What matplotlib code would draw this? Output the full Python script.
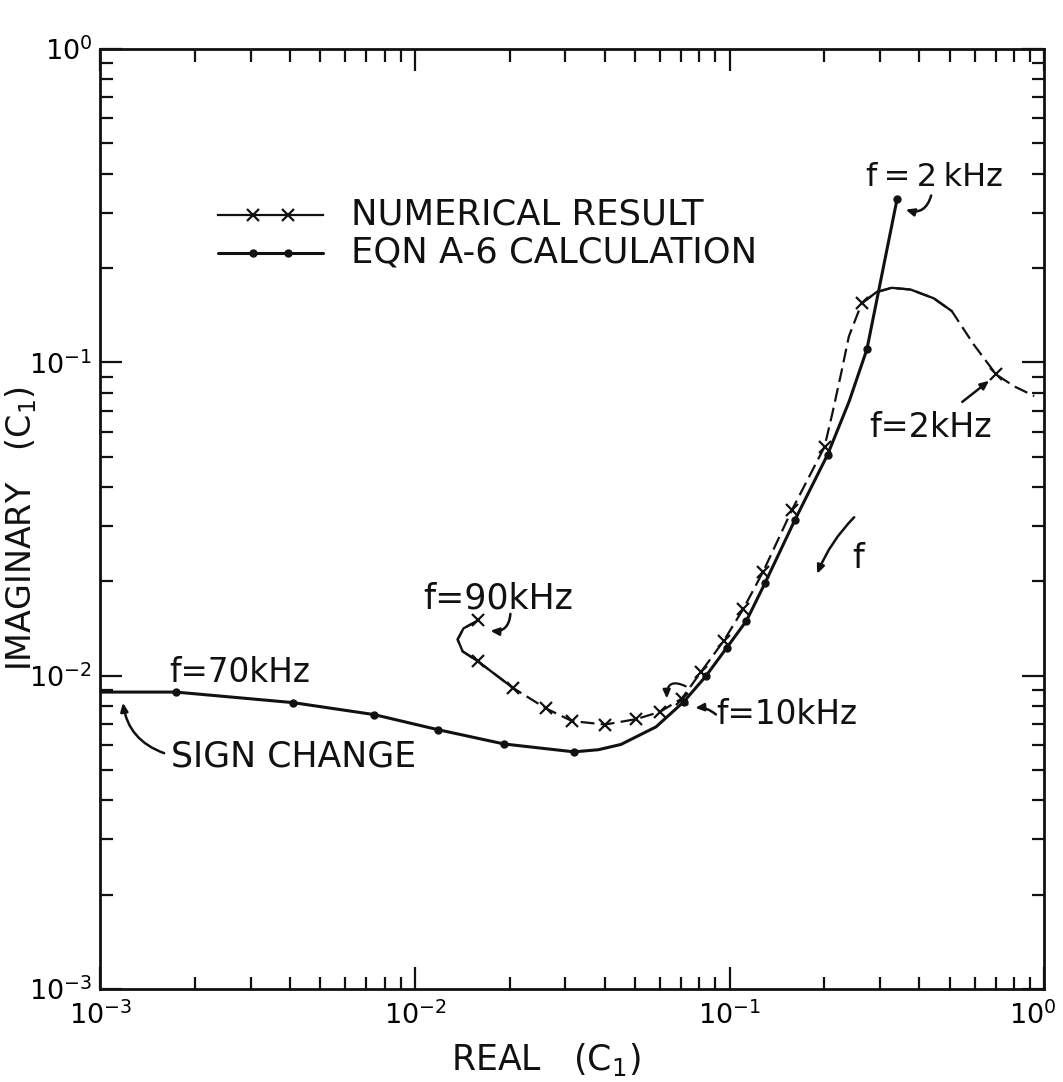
"""
Complex coupling coefficient C1 plotted in the complex plane (log-log).
Numerical result vs. the closed-form Eqn A-6 calculation, with the
frequency sweep annotated along both traces.
"""

import math
import numpy as np
import matplotlib
matplotlib.use("Agg")
import matplotlib.pyplot as plt
from matplotlib.ticker import LogLocator, FuncFormatter, NullFormatter
from matplotlib.transforms import ScaledTranslation

# -- Data ----------------------------------------------------------------------
# Eqn A-6 calculation, from f = 70 kHz (sign change at the left edge) to f = 2 kHz
eqn_re = [0.001, 0.001736, 0.00409, 0.0074, 0.01183, 0.01918, 0.0320, 0.0382,
          0.0451, 0.0583, 0.0715, 0.0839, 0.0977, 0.1130, 0.1297, 0.1610,
          0.2046, 0.2396, 0.2729, 0.3404]
eqn_im = [0.00886, 0.00886, 0.00820, 0.00751, 0.00672, 0.00605, 0.00571, 0.00580,
          0.00603, 0.00686, 0.00826, 0.00995, 0.01225, 0.01496, 0.01982, 0.03135,
          0.0507, 0.0750, 0.1101, 0.3325]
eqn_dots = [1, 2, 3, 4, 5, 6, 10, 11, 12, 13, 14, 15, 16, 18, 19]

# Numerical result, from f = 90 kHz to f = 2 kHz
num_re = [0.01590, 0.01425, 0.01365, 0.01416, 0.01581, 0.02045, 0.02604, 0.03152,
          0.04013, 0.05034, 0.06001, 0.07043, 0.08083, 0.09557, 0.1105, 0.1277,
          0.1575, 0.2001, 0.2118, 0.2259, 0.2391, 0.2627, 0.2930, 0.3270,
          0.3757, 0.4449, 0.5076, 0.5970, 0.7023, 0.8015, 0.9281]
num_im = [0.01502, 0.01415, 0.01304, 0.01195, 0.01112, 0.00914, 0.00786, 0.00716,
          0.00698, 0.00726, 0.00766, 0.00845, 0.01024, 0.01289, 0.01634, 0.02148,
          0.03372, 0.05373, 0.06855, 0.09211, 0.1209, 0.1543, 0.1675, 0.1728,
          0.1706, 0.1600, 0.1457, 0.1137, 0.0914, 0.0838, 0.0780]
num_marks = [0, 4, 5, 6, 7, 8, 9, 10, 11, 12, 13, 14, 15, 16, 17, 21, 28]
# stretches of the numerical trace drawn solid (hook at 90 kHz, arc over the peak)
num_solid = [(0, 5), (21, 26)]

legend_labels = ["NUMERICAL RESULT", "EQN A-6 CALCULATION"]

# -- Style ---------------------------------------------------------------------
plt.rcParams["font.family"] = ["DejaVu Sans"]
plt.rcParams["mathtext.default"] = "regular"
plt.rcParams["axes.unicode_minus"] = False
plt.rcParams["lines.scale_dashes"] = False

INK = "#111111"
DASH = (10, 4.5)
NUM_STYLE = dict(color=INK, lw=1.6, marker="x", ms=8, mew=1.6)
EQN_STYLE = dict(color=INK, lw=2.2, marker="o", ms=5, solid_capstyle="round")


def draw_numerical(ax):
    """Numerical trace: dashed overall, solid stretches, x marks on the grid points."""
    ax.plot(num_re, num_im, dashes=DASH, markevery=num_marks, **NUM_STYLE)
    for i0, i1 in num_solid:
        ax.plot(num_re[i0:i1 + 1], num_im[i0:i1 + 1], color=INK, lw=1.7,
                solid_capstyle="round")


def draw_eqn(ax):
    ax.plot(eqn_re, eqn_im, markevery=eqn_dots, **EQN_STYLE)


def draw_key(ax, y, style, text, x0=0.125, x1=0.236, tx=0.2658):
    """Key line with two marks at 1/3 and 2/3 of its length, label to the right."""
    xs = np.linspace(x0, x1, 4)
    ax.plot(xs, [y] * 4, transform=ax.transAxes, markevery=[1, 2],
            clip_on=False, **style)
    ax.text(tx, y, text, transform=ax.transAxes, ha="left", va="center",
            fontsize=25.5, color=INK)


def arrow(ax, tail, head, rad=0.0, lw=1.8):
    ax.annotate("", xy=head, xytext=tail, xycoords="axes fraction",
                textcoords="axes fraction",
                arrowprops=dict(arrowstyle="-|>,head_length=0.5,head_width=0.22",
                                color=INK, lw=lw, shrinkA=0, shrinkB=0,
                                connectionstyle=f"arc3,rad={rad}"))


def label(ax, x, y, s, size=24):
    ax.text(x, y, s, transform=ax.transAxes, ha="center", va="center",
            fontsize=size, color=INK)


# -- Figure --------------------------------------------------------------------
fig = plt.figure(figsize=(10.63, 10.82), dpi=100)
ax = fig.add_axes([0.0945, 0.086, 0.888, 0.8688])
ax.set_xscale("log")
ax.set_yscale("log")
ax.set_xlim(1e-3, 1e0)
ax.set_ylim(1e-3, 1e0)

draw_numerical(ax)
draw_eqn(ax)

# axes, ticks
for sp in ax.spines.values():
    sp.set_linewidth(2.0)
    sp.set_color(INK)
decade_fmt = FuncFormatter(lambda v, _: r"$10^{%d}$" % round(math.log10(v)))
for axis in (ax.xaxis, ax.yaxis):
    axis.set_major_locator(LogLocator(base=10, numticks=10))
    axis.set_minor_locator(LogLocator(base=10, subs=range(2, 10), numticks=10))
    axis.set_major_formatter(decade_fmt)
    axis.set_minor_formatter(NullFormatter())
ax.tick_params(which="both", direction="in", top=True, right=True, color=INK,
               labelsize=19.5, width=1.6)
ax.tick_params(which="major", length=16)
ax.tick_params(axis="x", which="major", pad=9)
ax.tick_params(axis="y", which="major", pad=6)
ax.tick_params(which="minor", length=9)

# pull the right-hand 10^0 in so it stays on the canvas
fig.canvas.draw()
for t in ax.xaxis.get_major_ticks():
    if abs(t.get_loc() - 1.0) < 1e-9:
        t.label1.set_transform(t.label1.get_transform()
                               + ScaledTranslation(-0.12, 0, fig.dpi_scale_trans))

ax.set_xlabel(r"REAL   (C$_1$)", fontsize=25, color=INK)
ax.set_ylabel(r"IMAGINARY   (C$_1$)", fontsize=24, color=INK)
ax.yaxis.label.set_verticalalignment("center")
ax.xaxis.set_label_coords(0.472, -0.055)
ax.yaxis.set_label_coords(-0.084, 0.49)

# key
draw_key(ax, 0.8236, NUM_STYLE, legend_labels[0])
draw_key(ax, 0.7832, EQN_STYLE, legend_labels[1])

# frequency annotations
label(ax, 0.883, 0.8635, "f\u2009=\u20092\u2009kHz", size=23)
arrow(ax, (0.880, 0.844), (0.853, 0.829), rad=-0.5)

label(ax, 0.879, 0.597, "f=2kHz", size=24)
arrow(ax, (0.913, 0.6245), (0.9415, 0.647))

label(ax, 0.4215, 0.415, "f=90kHz", size=25)
arrow(ax, (0.4343, 0.399), (0.413, 0.381), rad=-0.5)

label(ax, 0.727, 0.292, "f=10kHz", size=23.5)
arrow(ax, (0.652, 0.292), (0.630, 0.299), rad=0.2)
arrow(ax, (0.620, 0.322), (0.600, 0.309), rad=0.8, lw=1.6)

label(ax, 0.1476, 0.337, "f=70kHz", size=23.5)
label(ax, 0.2042, 0.247, "SIGN CHANGE", size=25)
arrow(ax, (0.0675, 0.2508), (0.0238, 0.3045), rad=-0.3)

label(ax, 0.803, 0.458, "f", size=24)
arrow(ax, (0.7985, 0.5018), (0.7593, 0.4416), rad=0.1)

fig.savefig("out.png", dpi=100)
